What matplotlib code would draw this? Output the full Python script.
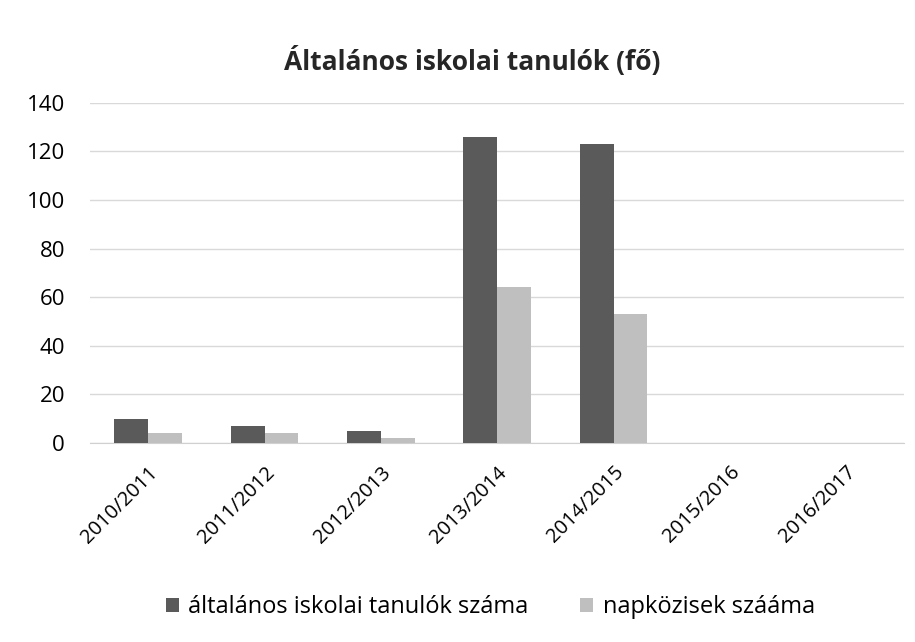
import matplotlib
matplotlib.use("Agg")
import matplotlib.pyplot as plt
import numpy as np

plt.rcParams['font.family'] = ['Open Sans', 'DejaVu Sans']

categories = ["2010/2011", "2011/2012", "2012/2013", "2013/2014", "2014/2015", "2015/2016", "2016/2017"]
tanulok = [10, 7, 5, 126, 123, 0, 0]
napkozis = [4, 4, 2, 64, 53, 0, 0]
series_names = ["általános iskolai tanulók száma", "napközisek szááma"]

fig = plt.figure(figsize=(9.15, 6.42), dpi=100)
ax = fig.add_axes([0.0984, 0.31, 0.89, 0.53])

x = np.arange(len(categories))
w = 0.29
ax.bar(x - w/2, tanulok, w, color='#5a5a5a', label=series_names[0], zorder=3)
ax.bar(x + w/2, napkozis, w, color='#bfbfbf', label=series_names[1], zorder=3)

ax.set_ylim(0, 140)
ax.set_yticks(range(0, 141, 20))
ax.set_xlim(-0.5, len(categories) - 0.5)
ax.set_xticks(x)
ax.set_xticklabels(categories, rotation=45, ha='right', rotation_mode='anchor', fontsize=14.5)
ax.tick_params(axis='y', labelsize=16, length=0, pad=18)
ax.tick_params(axis='x', length=0, pad=14)
ax.grid(axis='y', color='#d9d9d9', linewidth=1, zorder=0)
for s in ['top', 'right', 'left']:
    ax.spines[s].set_visible(False)
ax.spines['bottom'].set_color('#d0d0d0')

fig.text(0.516, 0.905, "Általános iskolai tanulók (fő)", ha='center', va='center',
         fontsize=19, fontweight='bold', color='#262626')

fig.legend(loc='center', bbox_to_anchor=(0.536, 0.054), ncol=2, frameon=False,
           fontsize=17, handlelength=0.55, handleheight=0.55, columnspacing=2.2, handletextpad=0.4)

fig.savefig("out.png", dpi=100)
